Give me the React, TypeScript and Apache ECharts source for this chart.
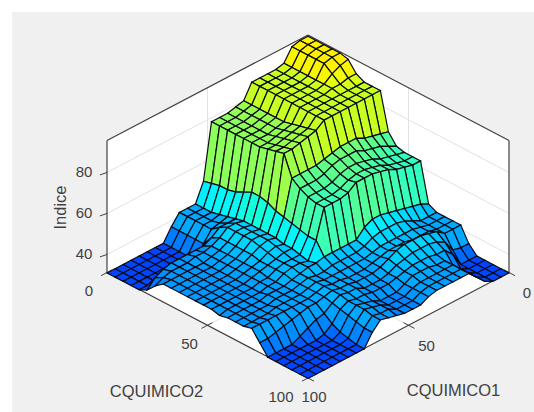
import React, { useEffect, useRef } from "react";
import * as echarts from "echarts";

const q1Ticks = [0, 50, 100];
const q2Ticks = [0, 50, 100];
const zTicks = [40, 60, 80];
const zMin = 31.2;
const zMax = 95.6;
const q1Label = "CQUIMICO1";
const q2Label = "CQUIMICO2";
const zLabel = "Indice";

// rows: CQUIMICO1 = 0,4,...,100 ; columns: CQUIMICO2 = 0,4,...,100
const heights: number[][] = [
  [95,95,95,95,95,94,89,87,87,87,69,64,63,63,63,44,42,42,42,42,35,31,31,31,31,31],
  [95,95,95,95,95,93,89,87,87,87,70,66,64,63,63,46,42,42,42,42,35,31,31,31,31,31],
  [94,94,94,94,94,91,88,87,87,87,71,68,65,64,64,47,42,42,42,42,36,31,31,31,31,31],
  [88,88,88,88,88,88,88,87,87,87,72,69,66,65,65,48,44,43,43,45,42,38,33,33,33,33],
  [87,87,87,87,87,87,87,87,87,87,74,70,68,67,67,49,46,44,43,46,44,42,37,37,37,37],
  [87,87,87,87,87,87,87,87,87,87,74,72,69,68,68,50,47,44,43,47,45,42,41,41,41,41],
  [87,87,87,87,87,87,87,87,87,87,74,72,70,69,69,51,47,44,44,47,45,43,41,41,41,41],
  [87,87,87,87,87,87,87,87,87,87,73,72,70,69,69,51,47,44,44,47,45,43,42,41,41,41],
  [80,80,80,80,80,80,81,82,83,84,72,71,69,68,69,49,46,44,44,46,44,43,42,41,41,41],
  [79,79,79,79,79,79,80,81,82,83,71,69,67,66,66,45,44,43,43,44,43,42,42,41,41,41],
  [78,78,78,78,78,78,79,80,81,82,71,68,66,65,65,45,43,42,42,42,41,41,40,40,40,40],
  [78,78,78,78,78,78,78,79,80,81,71,68,66,65,65,45,43,42,41,41,40,40,38,38,38,38],
  [78,78,78,78,78,78,78,79,80,81,71,68,66,65,65,45,43,42,41,41,40,40,38,38,38,38],
  [51,52,53,53,54,56,58,58,57,55,54,53,52,51,51,45,43,42,41,41,40,40,38,38,38,38],
  [42,42,42,43,44,45,46,46,46,46,46,45,45,44,43,44,42,42,42,42,42,41,40,40,40,39],
  [42,42,42,42,43,45,47,47,47,47,47,46,45,44,44,44,42,42,42,42,42,41,41,41,40,40],
  [42,42,42,42,42,45,47,47,47,47,46,45,44,44,44,43,43,43,43,43,43,42,42,42,41,41],
  [37,37,37,37,37,42,44,44,44,44,44,43,43,43,43,42,42,42,42,42,41,40,39,38,37,37],
  [31,31,31,31,31,40,42,42,42,42,42,42,42,41,41,41,41,41,41,41,38,35,33,32,31,31],
  [31,31,31,31,31,40,41,41,41,41,41,41,41,41,41,41,41,41,41,41,37,32,31,31,31,31],
  [31,31,31,31,31,40,41,40,40,40,40,40,40,40,40,41,41,41,41,40,35,31,31,31,31,31],
  [31,31,31,31,31,40,40,40,40,40,40,40,40,40,40,40,40,41,41,39,33,31,31,31,31,31],
  [31,31,31,31,31,40,40,40,40,40,40,40,40,40,40,40,40,40,41,38,31,31,31,31,31,31],
  [31,31,31,31,31,39,40,40,40,40,40,40,40,40,40,40,40,40,41,37,31,31,31,31,31,31],
  [31,31,31,31,31,37,39,40,40,40,40,40,40,40,40,40,40,40,41,36,31,31,31,31,31,31],
  [31,31,31,31,31,33,37,40,40,40,40,40,40,40,39,40,40,40,41,36,31,31,31,31,31,31],
];

const colorStops: [number, number, number, number][] = [
  [31, 0, 70, 255],
  [36, 0, 115, 255],
  [41, 0, 160, 255],
  [46, 0, 205, 255],
  [52, 0, 245, 255],
  [58, 20, 255, 220],
  [65, 60, 255, 180],
  [72, 95, 255, 135],
  [78, 140, 255, 90],
  [87, 200, 255, 35],
  [92, 235, 255, 10],
  [95, 255, 240, 0],
];

const GRID_STEP = 4;
const KZ = 2.05;
const KY = 1.055;

function colorFor(z: number): string {
  for (let k = 1; k < colorStops.length; k++) {
    if (z <= colorStops[k][0]) {
      const a = colorStops[k - 1];
      const b = colorStops[k];
      const t = Math.max(0, (z - a[0]) / (b[0] - a[0]));
      const c = [1, 2, 3].map((m) => Math.round(a[m] + (b[m] - a[m]) * t));
      return `rgb(${c[0]},${c[1]},${c[2]})`;
    }
  }
  return "rgb(255,240,0)";
}

const project = (q1: number, q2: number, z: number): [number, number] => [
  q2 - q1,
  KZ * (z - zMin) - KY * (q1 + q2),
];

const facets: number[][] = [];
for (let s = 0; s <= 48; s++) {
  for (let i = 0; i < 25; i++) {
    const j = s - i;
    if (j >= 0 && j < 25) facets.push([i, j]);
  }
}

const FONT = '"Liberation Sans", Arial, sans-serif';

export default function App() {
  const ref = useRef<HTMLDivElement>(null);
  useEffect(() => {
    const chart = echarts.init(ref.current!, undefined, { renderer: "svg" });
    const renderSurface = (_: any, api: any) => {
      const i = api.value(0);
      const j = api.value(1);
      const corners: [number, number][] = [[i, j], [i + 1, j], [i + 1, j + 1], [i, j + 1]];
      const points = corners.map(([a, b]) =>
        api.coord(project(a * GRID_STEP, b * GRID_STEP, heights[a][b]))
      );
      return {
        type: "polygon",
        shape: { points },
        style: { fill: colorFor(heights[i][j]), stroke: "#0a0a14", lineWidth: 1.2 },
      };
    };
    const renderFrame = (_: any, api: any) => {
      const P = (a: number, b: number, z: number) => api.coord(project(a, b, z));
      const children: any[] = [];
      const poly = (pts: number[][]) =>
        children.push({ type: "polygon", shape: { points: pts }, style: { fill: "#ffffff", stroke: "none" } });
      const line = (a: number[], b: number[], stroke: string, lineWidth = 1) =>
        children.push({
          type: "line",
          shape: { x1: a[0], y1: a[1], x2: b[0], y2: b[1] },
          style: { stroke, lineWidth },
        });
      poly([P(100, 0, zMin), P(100, 0, zMax), P(0, 0, zMax), P(0, 0, zMin)]);
      poly([P(0, 100, zMin), P(0, 100, zMax), P(0, 0, zMax), P(0, 0, zMin)]);
      poly([P(0, 0, zMin), P(100, 0, zMin), P(100, 100, zMin), P(0, 100, zMin)]);
      const gridColor = "#e2e2e2";
      zTicks.forEach((z) => {
        line(P(100, 0, z), P(0, 0, z), gridColor);
        line(P(0, 0, z), P(0, 100, z), gridColor);
      });
      line(P(50, 0, zMin), P(50, 0, zMax), gridColor);
      line(P(0, 50, zMin), P(0, 50, zMax), gridColor);
      line(P(50, 0, zMin), P(50, 100, zMin), gridColor);
      line(P(0, 50, zMin), P(100, 50, zMin), gridColor);
      const dark = "#404040";
      line(P(100, 0, zMin), P(100, 0, zMax), dark, 1.2);
      line(P(100, 0, zMax), P(0, 0, zMax), dark, 1.2);
      line(P(0, 0, zMax), P(0, 100, zMax), dark, 1.2);
      line(P(0, 100, zMax), P(0, 100, zMin), dark, 1.2);
      line(P(100, 0, zMin), P(100, 100, zMin), dark, 1.2);
      line(P(100, 100, zMin), P(0, 100, zMin), dark, 1.2);
      q2Ticks.forEach((t) => line(P(97.5, t, zMin), P(103, t, zMin), dark));
      q1Ticks.forEach((t) => line(P(t, 97.5, zMin), P(t, 103, zMin), dark));
      zTicks.forEach((z) => line(P(100, 0, z), P(103.5, 0, z + 0.6), dark));
      return { type: "group", children };
    };
    const renderLabels = (_: any, api: any) => {
      const P = (a: number, b: number, z: number) => api.coord(project(a, b, z));
      const children: any[] = [];
      const text = (t: string, x: number, y: number, size: number, rotation = 0) =>
        children.push({
          type: "text",
          x,
          y,
          rotation,
          style: { text: t, fill: "#404040", font: `${size}px ${FONT}`, align: "center", verticalAlign: "middle" },
        });
      zTicks.forEach((z) => {
        const p = P(100, 0, z);
        text(String(z), p[0] - 23, p[1] - 1, 15);
      });
      q2Ticks.forEach((t) => {
        const p = P(100, t, zMin);
        text(String(t), p[0] - 22 + (t === 100 ? -5 : 4), p[1] + 18, 15);
      });
      q1Ticks.forEach((t) => {
        const p = P(t, 100, zMin);
        text(String(t), p[0] + 18 + (t === 100 ? -12 : 0), p[1] + 20 - (t === 100 ? 2 : 0), 15);
      });
      const bl = P(100, 0, zMin);
      text(zLabel, bl[0] - 47, bl[1] - 65, 16.5, Math.PI / 2);
      const l2 = P(100, 50, zMin);
      text(q2Label, l2[0] - 51, l2[1] + 66, 16.5);
      const l1 = P(50, 100, zMin);
      text(q1Label, l1[0] + 45, l1[1] + 65, 16.5);
      return { type: "group", children };
    };
    chart.setOption({
      animation: false,
      backgroundColor: "transparent",
      grid: { left: 107, top: 35, width: 402, height: 343, containLabel: false },
      xAxis: { type: "value", min: -100, max: 100, show: false },
      yAxis: { type: "value", min: -211, max: 132, show: false },
      series: [
        { type: "custom", silent: true, clip: false, data: [[0, 0]], renderItem: renderFrame, z: 1 },
        { type: "custom", silent: true, clip: false, data: facets, renderItem: renderSurface, z: 2, progressive: 0 },
        { type: "custom", silent: true, clip: false, data: [[0, 0]], renderItem: renderLabels, z: 3 },
      ],
    });
    return () => chart.dispose();
  }, []);
  return (
    <div style={{ position: "fixed", left: 0, top: 0, width: 534, height: 412, background: "#ffffff", overflow: "hidden" }}>
      <div style={{ position: "absolute", left: 12, top: 12, width: 522, height: 400, background: "#f0f0f0" }} />
      <div ref={ref} style={{ position: "absolute", left: 0, top: 0, width: 534, height: 412 }} />
    </div>
  );
}
